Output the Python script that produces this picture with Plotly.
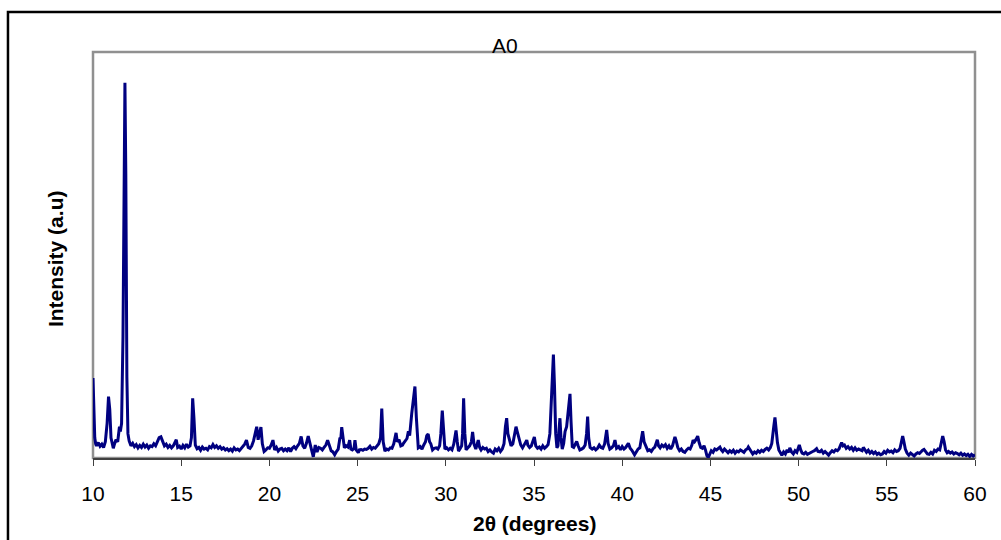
import plotly.graph_objects as go

# Diffraction pattern of sample A0 (2-theta in degrees, intensity in arbitrary units)
two_theta = [
    10.00, 10.05, 10.10, 10.15, 10.20, 10.30, 10.40, 10.50, 10.60, 10.70, 10.80, 10.88, 10.95, 11.02, 11.10,
    11.15, 11.20, 11.30, 11.40, 11.50, 11.55, 11.62, 11.70, 11.76, 11.81, 11.86, 11.92, 11.98, 12.05, 12.15,
    12.25, 12.35, 12.45, 12.55, 12.65, 12.75, 12.85, 12.95, 13.05, 13.15, 13.25, 13.35, 13.45, 13.55, 13.65,
    13.75, 13.85, 13.95, 14.05, 14.15, 14.25, 14.35, 14.45, 14.55, 14.65, 14.72, 14.80, 14.90, 15.00, 15.10,
    15.20, 15.30, 15.40, 15.50, 15.58, 15.65, 15.72, 15.80, 15.90, 16.00, 16.10, 16.20, 16.30, 16.40, 16.50,
    16.60, 16.70, 16.80, 16.90, 17.00, 17.10, 17.20, 17.30, 17.40, 17.50, 17.60, 17.70, 17.80, 17.90, 18.00,
    18.10, 18.20, 18.30, 18.40, 18.50, 18.60, 18.70, 18.80, 18.90, 19.00, 19.10, 19.20, 19.28, 19.36, 19.44,
    19.52, 19.60, 19.70, 19.80, 19.90, 20.00, 20.10, 20.20, 20.30, 20.40, 20.50, 20.60, 20.70, 20.80, 20.90,
    21.00, 21.10, 21.20, 21.30, 21.40, 21.50, 21.60, 21.70, 21.80, 21.90, 22.00, 22.10, 22.20, 22.30, 22.40,
    22.49, 22.55, 22.60, 22.70, 22.80, 22.90, 23.00, 23.10, 23.20, 23.30, 23.40, 23.50, 23.60, 23.70, 23.80,
    23.90, 24.00, 24.05, 24.10, 24.18, 24.25, 24.35, 24.45, 24.55, 24.62, 24.70, 24.80, 24.85, 24.92, 25.04,
    25.10, 25.20, 25.30, 25.40, 25.50, 25.60, 25.70, 25.80, 25.90, 26.00, 26.10, 26.20, 26.30, 26.37, 26.45,
    26.55, 26.65, 26.75, 26.85, 26.95, 27.05, 27.12, 27.18, 27.25, 27.35, 27.45, 27.55, 27.60, 27.70, 27.80,
    27.88, 27.95, 28.07, 28.15, 28.25, 28.33, 28.44, 28.55, 28.65, 28.75, 28.85, 28.92, 29.00, 29.08, 29.15,
    29.25, 29.35, 29.45, 29.55, 29.65, 29.72, 29.80, 29.88, 29.95, 30.05, 30.15, 30.25, 30.35, 30.45, 30.52,
    30.58, 30.65, 30.72, 30.80, 30.90, 30.95, 31.01, 31.08, 31.15, 31.25, 31.35, 31.45, 31.52, 31.60, 31.70,
    31.84, 31.92, 32.00, 32.10, 32.20, 32.30, 32.40, 32.50, 32.60, 32.70, 32.80, 32.90, 33.00, 33.10, 33.20,
    33.30, 33.38, 33.45, 33.52, 33.60, 33.70, 33.80, 33.90, 33.98, 34.05, 34.15, 34.25, 34.35, 34.45, 34.59,
    34.65, 34.75, 34.85, 34.95, 35.02, 35.10, 35.20, 35.30, 35.40, 35.50, 35.60, 35.70, 35.80, 35.90, 35.97,
    36.03, 36.10, 36.16, 36.23, 36.30, 36.36, 36.42, 36.47, 36.53, 36.60, 36.68, 36.76, 36.85, 36.95, 37.04,
    37.10, 37.17, 37.25, 37.34, 37.42, 37.50, 37.60, 37.70, 37.80, 37.90, 37.98, 38.04, 38.10, 38.18, 38.30,
    38.40, 38.50, 38.60, 38.70, 38.80, 38.90, 39.00, 39.07, 39.12, 39.20, 39.30, 39.40, 39.50, 39.59, 39.68,
    39.80, 39.90, 40.00, 40.10, 40.20, 40.35, 40.45, 40.55, 40.70, 40.80, 40.90, 41.00, 41.08, 41.16, 41.24,
    41.32, 41.45, 41.55, 41.65, 41.75, 41.85, 41.92, 41.99, 42.06, 42.15, 42.25, 42.35, 42.45, 42.55, 42.65,
    42.75, 42.85, 42.93, 42.99, 43.06, 43.15, 43.25, 43.35, 43.45, 43.55, 43.65, 43.75, 43.85, 43.95, 44.02,
    44.10, 44.18, 44.28, 44.36, 44.45, 44.55, 44.64, 44.72, 44.80, 44.88, 44.95, 45.05, 45.15, 45.25, 45.35,
    45.45, 45.54, 45.62, 45.70, 45.80, 45.90, 46.00, 46.10, 46.20, 46.30, 46.40, 46.50, 46.60, 46.70, 46.80,
    46.90, 47.00, 47.10, 47.15, 47.22, 47.30, 47.40, 47.50, 47.60, 47.70, 47.80, 47.90, 48.00, 48.10, 48.20,
    48.30, 48.40, 48.48, 48.55, 48.60, 48.66, 48.72, 48.80, 48.88, 48.96, 49.05, 49.15, 49.25, 49.35, 49.45,
    49.50, 49.60, 49.70, 49.80, 49.90, 49.98, 50.04, 50.12, 50.20, 50.30, 50.40, 50.50, 50.60, 50.70, 50.80,
    50.90, 51.02, 51.10, 51.20, 51.30, 51.40, 51.50, 51.60, 51.70, 51.80, 51.90, 52.00, 52.10, 52.20, 52.30,
    52.38, 52.44, 52.52, 52.60, 52.70, 52.80, 52.90, 53.00, 53.10, 53.20, 53.30, 53.40, 53.50, 53.60, 53.67,
    53.75, 53.85, 53.95, 54.05, 54.15, 54.25, 54.35, 54.45, 54.55, 54.65, 54.75, 54.85, 54.95, 55.05, 55.15,
    55.25, 55.35, 55.45, 55.55, 55.65, 55.75, 55.82, 55.90, 55.97, 56.05, 56.15, 56.25, 56.35, 56.45, 56.55,
    56.65, 56.75, 56.85, 56.95, 57.03, 57.11, 57.20, 57.30, 57.40, 57.50, 57.60, 57.70, 57.80, 57.90, 58.00,
    58.08, 58.17, 58.25, 58.33, 58.42, 58.50, 58.60, 58.70, 58.80, 58.90, 59.00, 59.10, 59.20, 59.30, 59.40,
    59.50, 59.60, 59.70, 59.80, 59.90, 60.00,
]

intensity = [
    19.7, 12.0, 5.0, 3.5, 3.0, 3.8, 2.9, 3.4, 2.6, 4.0, 8.5, 15.1, 12.0, 5.0, 3.0,
    2.4, 3.2, 4.5, 4.0, 7.7, 6.5, 8.5, 30.0, 75.0, 92.4, 70.0, 20.0, 6.0, 4.2, 3.0,
    3.6, 2.8, 3.3, 2.5, 3.1, 2.6, 3.4, 2.7, 3.2, 2.4, 3.0, 2.8, 3.5, 3.0, 3.9,
    5.0, 5.2, 4.0, 3.0, 3.4, 2.6, 3.1, 2.5, 3.0, 3.8, 4.5, 2.6, 2.9, 2.2, 3.1,
    2.5, 3.4, 2.7, 3.0, 5.0, 14.7, 10.0, 3.2, 2.3, 2.6, 1.9, 2.7, 2.2, 2.4, 2.0,
    2.8, 2.5, 3.3, 2.6, 3.0, 2.4, 2.8, 2.2, 2.5, 2.0, 2.3, 1.8, 2.2, 1.7, 2.5,
    2.0, 2.2, 1.8, 2.4, 2.8, 3.4, 4.4, 2.6, 2.4, 3.0, 4.2, 6.0, 7.7, 4.5, 6.0,
    7.6, 3.5, 1.6, 2.0, 2.5, 2.4, 3.2, 4.4, 2.0, 2.6, 1.7, 2.2, 2.4, 1.8, 2.2,
    1.8, 2.5, 1.6, 2.4, 2.8, 2.3, 3.0, 3.6, 5.3, 3.0, 2.4, 3.6, 5.4, 3.2, 1.8,
    0.3, 2.0, 3.2, 1.5, 2.6, 2.4, 2.0, 2.6, 3.2, 4.4, 3.0, 1.8, 1.5, 0.8, 1.6,
    2.2, 5.0, 4.8, 7.6, 5.0, 2.5, 3.0, 2.7, 4.4, 2.2, 2.0, 2.4, 4.4, 2.0, 1.3,
    2.0, 2.1, 1.9, 2.2, 2.1, 2.4, 2.9, 2.2, 2.6, 2.4, 2.9, 3.5, 5.0, 12.2, 4.0,
    1.7, 2.2, 2.0, 2.5, 2.4, 3.5, 5.0, 6.2, 4.0, 4.5, 3.0, 3.2, 3.6, 4.2, 4.8,
    6.6, 5.5, 11.0, 14.0, 17.6, 10.0, 2.5, 2.8, 2.2, 3.2, 4.0, 5.5, 5.9, 4.0, 3.5,
    2.0, 2.4, 2.5, 2.2, 3.0, 6.0, 11.7, 6.0, 2.2, 2.5, 2.0, 2.4, 2.0, 3.4, 5.0,
    6.8, 4.0, 1.7, 2.2, 3.0, 6.0, 14.7, 6.0, 2.0, 2.5, 3.0, 4.0, 6.4, 3.4, 2.2,
    4.4, 2.6, 2.0, 2.6, 2.2, 2.4, 1.6, 2.0, 1.5, 1.2, 2.2, 1.8, 2.4, 1.6, 2.2,
    3.5, 7.7, 9.8, 6.0, 4.4, 3.0, 3.5, 6.0, 7.7, 6.5, 4.5, 3.2, 2.5, 3.2, 4.4,
    3.2, 2.6, 3.0, 4.4, 5.2, 3.0, 2.4, 2.7, 2.2, 3.0, 2.4, 2.8, 3.3, 6.0, 14.0,
    22.0, 25.5, 18.0, 6.0, 2.5, 3.0, 7.0, 9.8, 5.0, 2.2, 3.5, 6.5, 7.7, 12.0, 15.8,
    9.0, 2.8, 2.6, 3.3, 4.1, 3.0, 2.0, 2.2, 2.5, 3.2, 6.0, 10.2, 5.0, 2.6, 2.2,
    2.5, 2.0, 2.4, 3.2, 2.6, 2.4, 3.4, 5.0, 6.9, 3.6, 2.2, 2.5, 3.0, 4.4, 2.4,
    2.8, 2.0, 2.8, 2.2, 2.6, 3.6, 2.4, 1.9, 0.8, 1.5, 2.2, 2.5, 4.5, 6.6, 4.0,
    3.2, 1.8, 2.0, 1.6, 2.3, 2.7, 3.6, 4.5, 3.0, 2.5, 3.2, 2.8, 3.3, 2.4, 3.0,
    2.2, 3.0, 4.2, 5.2, 4.2, 2.6, 1.8, 2.2, 1.6, 1.4, 2.0, 2.4, 2.2, 3.2, 4.4,
    4.0, 4.5, 5.4, 3.8, 2.6, 2.4, 3.0, 2.0, 0.6, 0.1, 1.0, 1.8, 1.4, 2.2, 2.0,
    2.4, 2.7, 2.0, 1.6, 2.2, 1.8, 1.3, 1.8, 1.4, 1.9, 1.2, 1.7, 1.5, 2.0, 1.6,
    1.4, 2.0, 2.3, 2.7, 2.2, 1.4, 1.0, 1.5, 1.2, 1.8, 1.4, 1.9, 1.6, 2.1, 2.4,
    2.0, 2.6, 3.6, 5.5, 8.0, 10.0, 6.5, 3.8, 2.0, 1.2, 0.7, 1.5, 1.0, 2.0, 1.4,
    2.5, 1.5, 1.0, 1.8, 1.4, 2.4, 3.2, 2.0, 1.2, 1.0, 1.4, 0.9, 1.2, 1.3, 1.6,
    1.8, 2.3, 1.6, 1.5, 1.9, 1.2, 1.6, 1.0, 0.7, 1.3, 1.8, 1.5, 2.0, 1.8, 2.3,
    3.2, 3.8, 3.0, 3.2, 2.4, 2.8, 2.2, 2.6, 1.9, 2.5, 1.9, 2.2, 2.0, 1.8, 2.6,
    2.0, 1.4, 1.9, 1.2, 1.6, 1.1, 1.5, 0.9, 1.2, 0.8, 1.0, 1.6, 1.2, 1.9, 1.5,
    1.7, 1.3, 2.0, 1.6, 1.8, 2.4, 3.6, 5.4, 4.0, 2.2, 1.2, 0.7, 1.2, 0.8, 0.5,
    1.0, 1.3, 1.1, 1.7, 1.9, 2.1, 1.4, 1.0, 0.9, 1.4, 1.0, 1.9, 1.6, 2.2, 2.0,
    3.5, 5.4, 4.0, 2.0, 1.3, 1.6, 1.2, 1.5, 1.0, 1.3, 1.1, 0.8, 1.2, 0.7, 1.0,
    0.6, 0.9, 0.4, 0.9, 0.5, 0.8,
]

x_ticks = [10, 15, 20, 25, 30, 35, 40, 45, 50, 55, 60]

FONT = "Liberation Sans, Arial, sans-serif"

fig = go.Figure()
fig.add_trace(go.Scatter(
    x=two_theta, y=intensity, mode="lines",
    line=dict(color="#000080", width=3),
    showlegend=False, hoverinfo="skip",
))

fig.update_layout(
    width=1001, height=540,
    margin=dict(l=93, r=26, t=52, b=82),
    paper_bgcolor="white", plot_bgcolor="white",
    font=dict(family=FONT, color="black"),
    xaxis=dict(
        range=[10, 60], tickvals=x_ticks, ticktext=[str(v) for v in x_ticks],
        ticks="outside", ticklen=6, tickwidth=1, tickcolor="#404040",
        showline=True, linecolor="#404040", linewidth=1.5,
        showgrid=False, zeroline=False, ticklabelstandoff=10,
        tickfont=dict(family=FONT, size=21, color="black"),
    ),
    yaxis=dict(
        range=[0, 100], showticklabels=False, ticks="",
        showgrid=False, zeroline=False, showline=False,
    ),
    shapes=[
        # grey plot-area frame
        dict(type="rect", xref="paper", yref="paper", x0=0, y0=0, x1=1, y1=1,
             line=dict(color="#909090", width=2.5), layer="below"),
        # black outer chart frame
        dict(type="rect", xref="paper", yref="paper", x0=-0.0964, y0=-0.4, x1=1.1, y1=1.0985,
             line=dict(color="black", width=2.5), layer="below"),
    ],
    annotations=[
        dict(text="A0", xref="paper", yref="paper", x=0.467, y=1.0, yanchor="bottom",
             yshift=-7, showarrow=False, font=dict(family=FONT, size=21, color="black")),
        dict(text="<b>2θ (degrees)</b>", xref="paper", yref="paper", x=0.5, y=0,
             yanchor="middle", yshift=-65, showarrow=False,
             font=dict(family=FONT, size=21, color="black")),
        dict(text="<b>Intensity (a.u)</b>", xref="paper", yref="paper", x=0, xshift=-38,
             xanchor="center", yanchor="middle",
             y=0.49, textangle=-90, showarrow=False,
             font=dict(family=FONT, size=21, color="black")),
    ],
)

fig.write_html("out.html")
